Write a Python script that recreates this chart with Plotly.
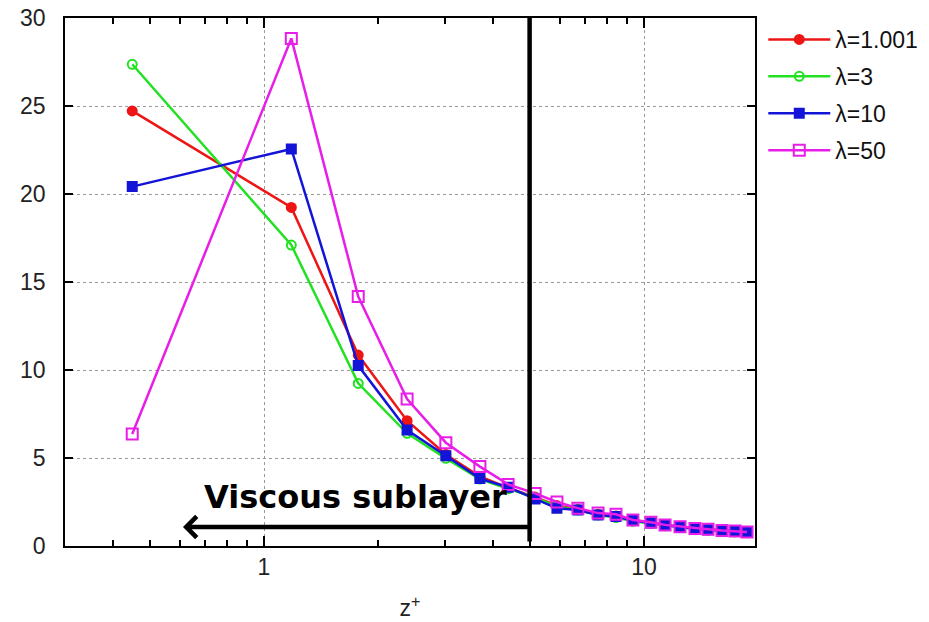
import math
import plotly.graph_objects as go

# ---- data ----
z_plus = [0.45, 1.18, 1.77, 2.38, 3.01, 3.70, 4.39, 5.17, 5.90, 6.70, 7.57,
          8.44, 9.35, 10.43, 11.36, 12.44, 13.62, 14.74, 16.04, 17.35, 18.67]
lam_1001 = [24.72, 19.24, 10.85, 7.12, 5.20, 3.95, 3.30, 2.78, 2.30, 2.08, 1.80,
            1.70, 1.48, 1.33, 1.19, 1.09, 0.99, 0.93, 0.87, 0.83, 0.79]
lam_3 = [27.37, 17.10, 9.24, 6.40, 4.98, 3.80, 3.25, 2.75, 2.25, 2.05, 1.76,
         1.62, 1.40, 1.28, 1.15, 1.05, 0.96, 0.90, 0.83, 0.80, 0.76]
lam_10 = [20.42, 22.56, 10.25, 6.59, 5.13, 3.83, 3.34, 2.67, 2.14, 2.05, 1.76,
          1.67, 1.45, 1.30, 1.18, 1.07, 0.98, 0.92, 0.86, 0.82, 0.78]
lam_50 = [6.36, 28.84, 14.17, 8.35, 5.87, 4.51, 3.50, 2.99, 2.50, 2.15, 1.87,
          1.80, 1.48, 1.35, 1.20, 1.10, 1.00, 0.95, 0.88, 0.85, 0.80]
series_names = ["λ=1.001", "λ=3", "λ=10", "λ=50"]
y_ticks = [0, 5, 10, 15, 20, 25, 30]
x_ticks = [1, 10]
x_minor_ticks = [0.3, 0.4, 0.5, 0.6, 0.7, 0.8, 0.9, 2, 3, 4, 5, 6, 7, 8, 9]
sublayer_edge = 5.0          # z+ = 5, end of the viscous sublayer
arrow_tip = 0.612            # z+ where the arrow head sits
arrow_level = 1.08           # y level of the arrow
label_pos = (1.74, 2.8)      # z+, y centre of the label

colors = ["#ee1515", "#22e022", "#1414d8", "#e81ee8"]
symbols = ["circle", "circle-open", "square", "square-open"]
sizes = [9, 9, 9, 11]

fig = go.Figure()
for name, ys, c, s, sz in zip(series_names, [lam_1001, lam_3, lam_10, lam_50],
                              colors, symbols, sizes):
    fig.add_trace(go.Scatter(
        x=z_plus, y=ys, name=name, mode="lines+markers", legendgroup=name,
        line=dict(color=c, width=2.5),
        marker=dict(symbol=s, size=sz, color=c, line=dict(color=c, width=2)),
    ))

# vertical line marking the sublayer edge
fig.add_trace(go.Scatter(x=[sublayer_edge, sublayer_edge], y=[y_ticks[0] + 0.25, y_ticks[-1]],
                         mode="lines", line=dict(color="black", width=4.5),
                         showlegend=False, hoverinfo="skip"))

# arrow
fig.add_annotation(x=math.log10(arrow_tip), y=arrow_level,
                   ax=math.log10(sublayer_edge), ay=arrow_level,
                   xref="x", yref="y", axref="x", ayref="y",
                   showarrow=True, arrowhead=4, arrowsize=0.9, arrowwidth=4.5,
                   arrowcolor="black", text="")
fig.add_annotation(x=math.log10(label_pos[0]), y=label_pos[1], xref="x", yref="y",
                   text="<b>Viscous sublayer</b>", showarrow=False,
                   font=dict(family="DejaVu Sans", size=32, color="black"))

x_range = [-0.5237, 1.2921]
tick_font = dict(family="Liberation Sans, Arial", size=23, color="#222")
all_x_ticks = sorted(x_ticks + x_minor_ticks)
fig.update_layout(
    xaxis=dict(type="log", range=x_range, tickmode="array",
               tickvals=all_x_ticks,
               ticktext=[str(v) if v in x_ticks else "" for v in all_x_ticks],
               ticks="inside", ticklen=6, tickwidth=1.5, tickcolor="black",
               showline=True, linecolor="black", linewidth=1.5, mirror="ticks",
               showgrid=False, zeroline=False, tickfont=tick_font, automargin=False,
               title=dict(text="z<sup>+</sup>", font=tick_font, standoff=21)),
    xaxis2=dict(type="log", range=x_range, overlaying="x", anchor="y", side="bottom",
                tickmode="array", tickvals=x_ticks, showticklabels=False,
                ticks="inside", ticklen=10, tickwidth=1.5, tickcolor="black",
                showline=True, linecolor="black", linewidth=1.5, mirror="ticks",
                showgrid=True, gridcolor="#999", griddash="dot", gridwidth=1,
                zeroline=False, automargin=False),
    yaxis=dict(range=[0, 30], tickvals=y_ticks,
               ticks="inside", ticklen=8, tickwidth=1.5, tickcolor="black",
               showline=True, linecolor="black", linewidth=1.5, mirror="ticks",
               showgrid=True, gridcolor="#999", griddash="dot", gridwidth=1,
               zeroline=False, tickfont=tick_font, ticklabelstandoff=13,
               ticklabeloverflow="allow", automargin=False),
)
# an invisible carrier so the overlay axis is laid out
fig.add_trace(go.Scatter(x=[x_ticks[0]], y=[y_ticks[0]], xaxis="x2", yaxis="y",
                         mode="markers", marker=dict(opacity=0), showlegend=False,
                         hoverinfo="skip"))

fig.update_layout(
    width=921, height=614,
    margin=dict(l=57, r=174, t=10, b=76, autoexpand=False),
    paper_bgcolor="white", plot_bgcolor="white",
    showlegend=True,
    legend=dict(x=1.012, y=1.0, xanchor="left", yanchor="top",
                font=dict(family="Liberation Sans, Arial", size=23, color="#111"),
                itemwidth=62, tracegroupgap=4, bgcolor="rgba(0,0,0,0)"),
)

fig.write_html("out.html")
